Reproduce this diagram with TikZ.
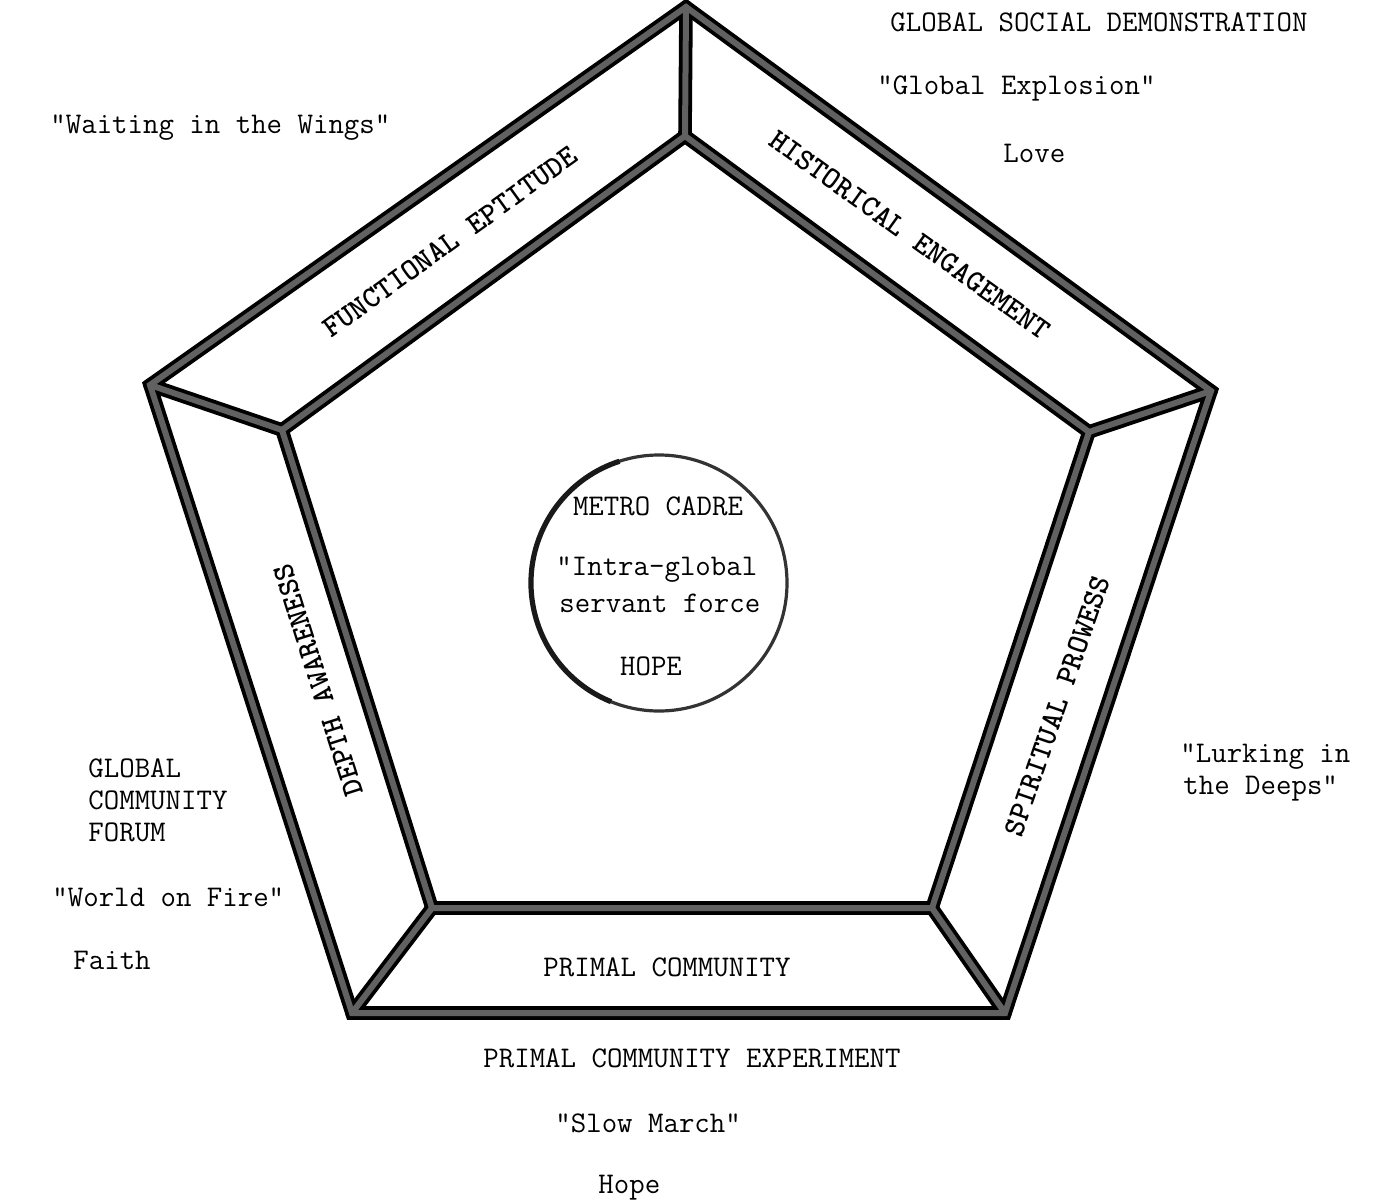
\documentclass[tikz,border=0pt]{standalone}
\usepackage{fontspec}
\begin{document}
\begin{tikzpicture}[x=0.5pt,y=-0.5pt,
  tw/.style={font=\ttfamily\fontsize{15}{16}\selectfont, inner sep=0pt, anchor=west},
  twc/.style={font=\ttfamily\fontsize{15}{16}\selectfont, inner sep=0pt},
  band/.style={line width=6.8pt, draw=black, line join=miter, line cap=round},
  bandfill/.style={line width=3pt, draw=black!62, line join=miter, line cap=round},
  blabel/.style={inner sep=0pt, font=\ttfamily\bfseries\fontsize{15.3}{16}\selectfont},
  ring/.style={circle, draw=black!80, line width=1.6pt, minimum size=128pt, inner sep=0pt}]
\useasboundingbox (0,0) rectangle (1374,1203);
% outer and inner vertices
\coordinate (O1) at (686,7);
\coordinate (O2) at (1211,391);
\coordinate (O3) at (1005,1013);
\coordinate (O4) at (352,1013);
\coordinate (O5) at (150,385);
\coordinate (I1) at (685,136);
\coordinate (I2) at (1089,432);
\coordinate (I3) at (932,908);
\coordinate (I4) at (432,908);
\coordinate (I5) at (282,430);
% bands
\foreach \s in {band,bandfill}{
  \draw[\s] (O1) -- (O2) -- (O3) -- (O4) -- (O5) -- cycle;
  \draw[\s] (I1) -- (I2) -- (I3) -- (I4) -- (I5) -- cycle;
  \draw[\s] (O1) -- (I1);
  \draw[\s] (O2) -- (I2);
  \draw[\s] (O3) -- (I3);
  \draw[\s] (O4) -- (I4);
  \draw[\s] (O5) -- (I5);
}
% band labels
\node[blabel, rotate=35.8] (fe) at (450,242) {FUNCTIONAL EPTITUDE};
\node[blabel, rotate=-35.6] (he) at (910,235) {HISTORICAL ENGAGEMENT};
\node[blabel, rotate=107.6] (da) at (318,680) {DEPTH AWARENESS};
\node[blabel, rotate=71] (sp) at (1057,706) {SPIRITUAL PROWESS};
\node[twc] (pc) at (667,967) {PRIMAL COMMUNITY};
% central circle
\node[ring] (cadre) at (659,583) {};
\draw[black!90, line width=2.6pt] ([shift={(108:64pt)}]cadre.center) arc[start angle=108, end angle=248, radius=64pt];
\node[twc] (mc) at (658,506) {METRO CADRE};
\node[tw] (ig) at (556,570) {"Intra-global};
\node[tw] (sf) at (559,603) {servant force};
\node[twc] (hp) at (651,666) {HOPE};
% outer texts
\node[tw] (gsd) at (890,22) {GLOBAL SOCIAL DEMONSTRATION};
\node[tw] (ge) at (877,88) {"Global Explosion"};
\node[tw] (lv) at (1003,153) {Love};
\node[tw] (wiw) at (50,128) {"Waiting in the Wings"};
\node[tw] (g1) at (88,768) {GLOBAL};
\node[tw] (g2) at (88,800) {COMMUNITY};
\node[tw] (g3) at (88,832) {FORUM};
\node[tw] (wf) at (52,897) {"World on Fire"};
\node[tw] (fa) at (73,960) {Faith};
\node[tw] (lk1) at (1180,757) {"Lurking in};
\node[tw] (lk2) at (1183,789) {the Deeps"};
\node[tw] (pce) at (483,1058) {PRIMAL COMMUNITY EXPERIMENT};
\node[tw] (sm) at (555,1123) {"Slow March"};
\node[tw] (ho) at (598,1188) {Hope};
\end{tikzpicture}
\end{document}
